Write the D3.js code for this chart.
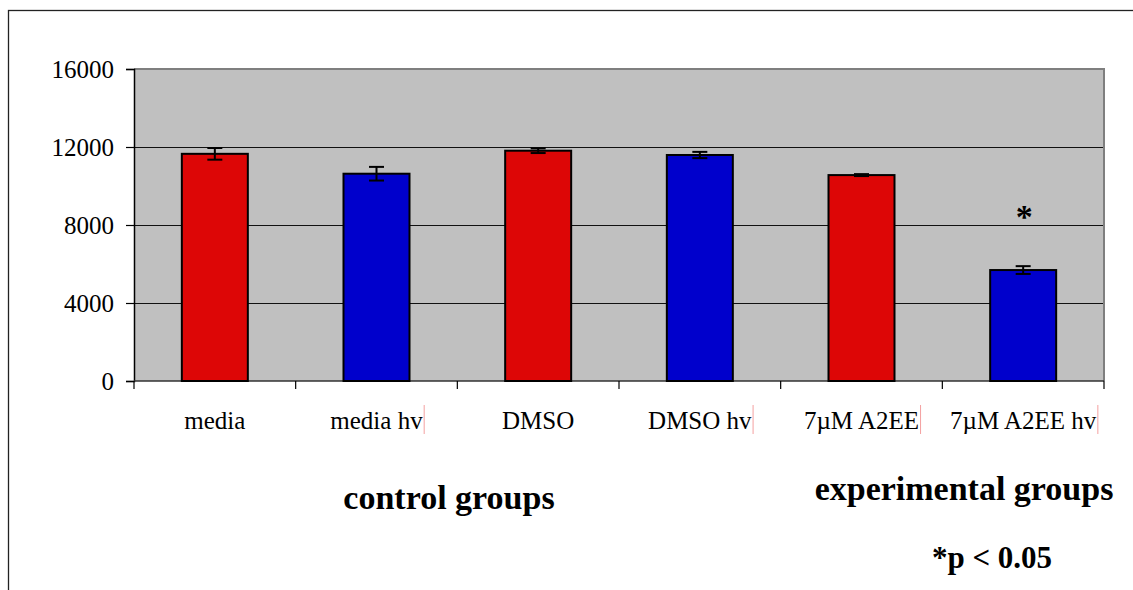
<!DOCTYPE html>
<html><head><meta charset="utf-8">
<script src="https://cdn.jsdelivr.net/npm/d3@7"></script>
<style>
html,body{margin:0;padding:0;background:#fff;}
svg{display:block;}
svg text{font-family:"Liberation Serif","Times New Roman",Times,"DejaVu Serif",serif !important;}
</style></head>
<body><svg id="c" width="1133" height="590"></svg>
<script>
const categories = ["media", "media hv", "DMSO", "DMSO hv", "7\u00b5M A2EE", "7\u00b5M A2EE hv"];
const values = [11650, 10630, 11810, 11590, 10560, 5690];
const errors = [300, 350, 120, 160, 50, 200];
const barColors = ["#dd0606", "#0000cc", "#dd0606", "#0000cc", "#dd0606", "#0000cc"];
const yTicks = [0, 4000, 8000, 12000, 16000];
const significant = [false, false, false, false, false, true];
const markedLabels = [false, true, false, true, true, true];

const svg = d3.select("#c");
const L = 134, R = 1104, T = 69, B = 381;

svg.append("rect").attr("x", 8.5).attr("y", 10.5).attr("width", 1300).attr("height", 800)
  .attr("fill", "none").attr("stroke", "#222").attr("stroke-width", 1.3);

const x = d3.scaleBand().domain(categories).range([L, R]).paddingInner(0).paddingOuter(0);
const y = d3.scaleLinear().domain([0, 16000]).range([B, T]);

svg.append("rect").attr("x", L).attr("y", T).attr("width", R - L).attr("height", B - T).attr("fill", "#c0c0c0");

svg.append("g").selectAll("line").data(yTicks.filter(d => d > 0 && d < 16000)).join("line")
  .attr("x1", L).attr("x2", R).attr("y1", d => Math.round(y(d)) + 0.5).attr("y2", d => Math.round(y(d)) + 0.5)
  .attr("stroke", "#111").attr("stroke-width", 1);
svg.append("path").attr("d", `M${L},${T} H${R} V${B}`).attr("fill", "none").attr("stroke", "#7f7f7f").attr("stroke-width", 2);

const ya = svg.append("g").attr("transform", `translate(${L},0)`)
  .call(d3.axisLeft(y).tickValues(yTicks).tickSize(8).tickPadding(12).tickFormat(d3.format("d")));
ya.attr("font-family", null);
ya.select(".domain").attr("stroke", "#000").attr("stroke-width", 1.5);
ya.selectAll(".tick line").attr("stroke", "#000").attr("stroke-width", 1.2);
ya.selectAll(".tick text").attr("font-size", 25).attr("fill", "#000").attr("dy", "0.35em");

const xa = svg.append("g").attr("transform", `translate(0,${B})`);
xa.append("line").attr("x1", L).attr("x2", R).attr("y1", 0).attr("y2", 0).attr("stroke", "#333").attr("stroke-width", 1.5);
const bounds = categories.map(c => x(c)).concat([R]);
xa.selectAll("line.tk").data(bounds).join("line").attr("class", "tk")
  .attr("x1", d => d).attr("x2", d => d).attr("y1", 0).attr("y2", 8).attr("stroke", "#000").attr("stroke-width", 1.2);

const bw = 66;
const cx = d => x(d) + x.bandwidth() / 2;
svg.append("g").selectAll("rect").data(categories).join("rect")
  .attr("x", d => cx(d) - bw / 2).attr("y", (d, i) => y(values[i]))
  .attr("width", bw).attr("height", (d, i) => B - y(values[i]))
  .attr("fill", (d, i) => barColors[i]).attr("stroke", "#000").attr("stroke-width", 2);

const eg = svg.append("g").attr("stroke", "#000").attr("stroke-width", 2);
categories.forEach((c, i) => {
  const xc = cx(c), y1 = y(values[i] + errors[i]), y2 = y(values[i] - errors[i]);
  eg.append("line").attr("x1", xc).attr("x2", xc).attr("y1", y1).attr("y2", y2);
  eg.append("line").attr("x1", xc - 7.5).attr("x2", xc + 7.5).attr("y1", y1).attr("y2", y1);
  eg.append("line").attr("x1", xc - 7.5).attr("x2", xc + 7.5).attr("y1", y2).attr("y2", y2);
});

svg.append("g").selectAll("text").data(categories.filter((c, i) => significant[i])).join("text")
  .attr("x", d => cx(d) + 1).attr("y", 228).attr("text-anchor", "middle")
  .attr("font-size", 34).attr("font-weight", "bold").text("*");

const lab = svg.append("g").selectAll("text").data(categories).join("text")
  .attr("x", d => cx(d)).attr("y", 429).attr("text-anchor", "middle")
  .attr("font-size", 25).attr("fill", "#000").text(d => d);
lab.each(function(d, i) {
  if (!markedLabels[i]) return;
  const w = this.getComputedTextLength();
  svg.append("line").attr("x1", cx(d) + w / 2 + 1.5).attr("x2", cx(d) + w / 2 + 1.5)
    .attr("y1", 405).attr("y2", 434).attr("stroke", "#f4a0a0").attr("stroke-width", 1);
});

svg.append("text").attr("x", 449).attr("y", 509).attr("text-anchor", "middle")
  .attr("font-size", 34).attr("font-weight", "bold").text("control groups");
svg.append("text").attr("x", 964).attr("y", 500).attr("text-anchor", "middle")
  .attr("font-size", 34).attr("font-weight", "bold").text("experimental groups");
svg.append("text").attr("x", 992).attr("y", 568).attr("text-anchor", "middle")
  .attr("font-size", 31).attr("font-weight", "bold").text("*p < 0.05");
</script></body></html>
